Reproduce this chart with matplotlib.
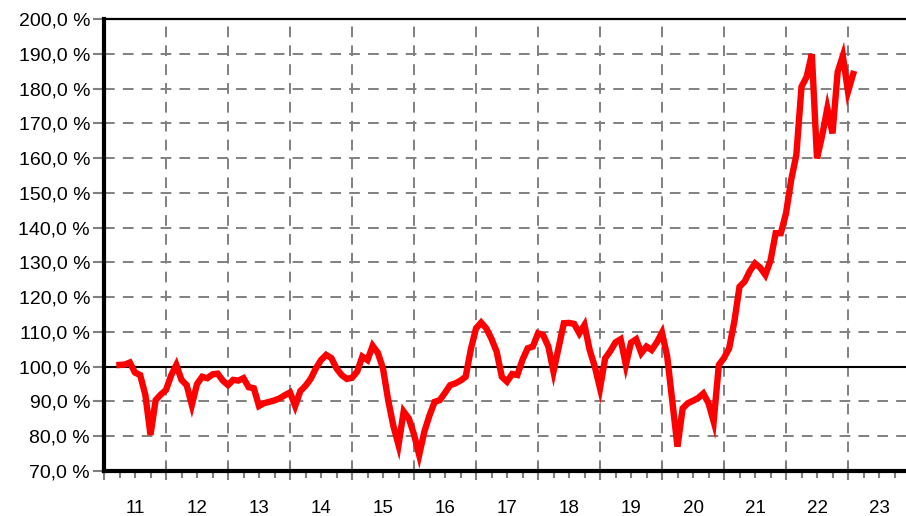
import matplotlib
matplotlib.use("Agg")
import matplotlib.pyplot as plt
import pandas as pd

plt.rcParams['font.family'] = ['Liberation Sans', 'DejaVu Sans']

# ---- data (monthly index values, %) ----
start_month = "2011-04"
values = [
    100.5, 100.6, 101.2, 98.3, 97.6, 91.9, 80.4, 90.4, 92.0,
    93.3, 97.5, 100.5, 96.2, 94.7, 89.0, 95.0, 97.1, 96.7, 97.8, 98.0, 96.0,
    94.7, 96.2, 96.0, 96.7, 94.1, 93.8, 88.7, 89.5, 89.9, 90.3, 90.9, 91.8,
    92.6, 88.7, 93.0, 94.5, 96.5, 99.5, 101.9, 103.4, 102.5, 99.5, 97.6, 96.5,
    96.8, 98.6, 102.9, 101.9, 106.0, 104.0, 99.5, 90.4, 83.0, 77.5, 87.1, 85.1,
    80.5, 74.6, 81.3, 86.0, 89.9, 90.4, 92.5, 94.7, 95.2, 96.0, 97.1, 105.0,
    111.0, 112.7, 111.0, 108.0, 104.3, 97.1, 95.7, 97.9, 97.6, 102.0, 105.3, 105.8,
    109.6, 109.1, 105.8, 98.6, 105.5, 112.5, 112.6, 112.3, 109.6, 112.0, 104.8, 100.0,
    93.8, 102.4, 104.5, 107.0, 107.9, 100.5, 106.9, 107.9, 103.9, 105.8, 104.8, 107.0,
    109.8, 103.0, 90.0, 77.0, 88.0, 89.5, 90.2, 91.0, 92.3, 89.5, 84.2, 100.5,
    102.5, 105.3, 113.0, 123.0, 124.5, 127.5, 129.7, 128.5, 126.4, 130.5, 138.4, 138.4,
    144.1, 153.7, 160.9, 180.5, 183.4, 189.9, 159.9, 166.5, 174.3, 167.1, 184.8, 189.4,
    179.1, 184.2,
]
year_labels = ["11", "12", "13", "14", "15", "16", "17", "18", "19", "20", "21", "22", "23"]
y_ticks = [70, 80, 90, 100, 110, 120, 130, 140, 150, 160, 170, 180, 190, 200]

months = pd.period_range(start_month, periods=len(values), freq="M")
x = [(p.year - 2011) * 12 + (p.month - 1) for p in months]

fig = plt.figure(figsize=(9.06, 5.16), dpi=100)
ax = fig.add_axes([104 / 906, 45 / 516, 802 / 906, 452 / 516])

ax.plot(x, values, color="#ff0000", lw=4.6, zorder=4, solid_joinstyle="miter")
ax.axhline(100, color="black", lw=1.5, zorder=3)

ax.set_xlim(0, 802 / 62 * 12)
ax.set_ylim(70, 200)

# y axis
ax.set_yticks(y_ticks)
ax.set_yticklabels([f"{v:.1f} %".replace(".", ",") for v in y_ticks])
ax.tick_params(axis="y", length=8, width=1.5, color="#808080", pad=2,
               labelsize=14, labelcolor="black")

# x axis: year boundaries (major) and quarters (minor)
ax.set_xticks(list(range(0, 156, 12)))
ax.set_xticks([m for m in range(3, 156, 3) if m % 12], minor=True)
ax.tick_params(axis="x", which="major", direction="inout", length=13,
               width=1.5, color="#808080", labelbottom=False)
ax.tick_params(axis="x", which="minor", direction="out", length=5,
               width=1.5, color="#808080", labelbottom=False)

sec = ax.secondary_xaxis("bottom")
sec.set_xticks([6 + 12 * i for i in range(len(year_labels))])
sec.set_xticklabels(year_labels)
sec.tick_params(length=0, pad=21, labelsize=13.5)
sec.spines["bottom"].set_visible(False)

ax.grid(True, which="major", color="#808080", lw=1.4,
        linestyle=(0, (5.5, 4.2)))
ax.set_axisbelow(True)

ax.spines["right"].set_visible(False)
ax.spines["top"].set_linewidth(1.6)
ax.spines["left"].set_linewidth(3)
ax.spines["bottom"].set_linewidth(3)
for s in ax.spines.values():
    s.set_color("black")
    s.set_zorder(5)

fig.savefig("out.png", dpi=100, facecolor="white")
